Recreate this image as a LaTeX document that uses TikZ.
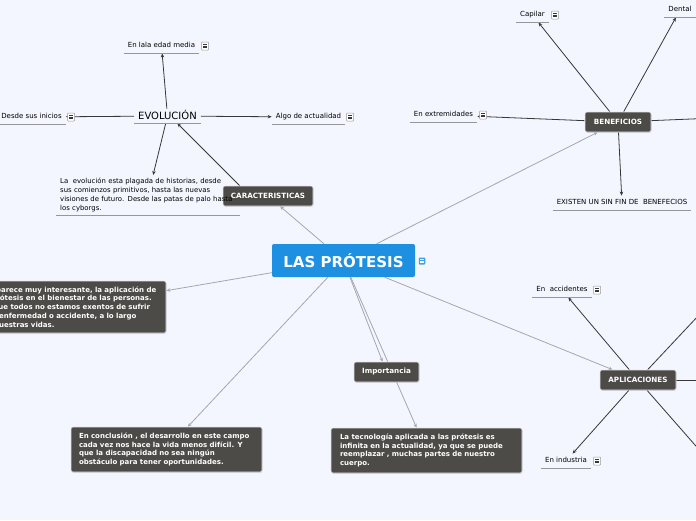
\documentclass[tikz,border=0pt]{standalone}
\usepackage{fontspec}
\setmainfont{DejaVu Sans}
\usetikzlibrary{arrows.meta,shadows}
\definecolor{bgc}{RGB}{243,246,254}
\definecolor{rootblue}{RGB}{30,144,226}
\definecolor{boxgray}{RGB}{77,75,72}
\definecolor{rootline}{RGB}{165,167,175}
\definecolor{darkline}{RGB}{55,55,55}
\definecolor{uline}{RGB}{150,150,155}
\pgfdeclarelayer{bglayer}
\pgfdeclarelayer{linelayer}
\pgfsetlayers{bglayer,linelayer,main}
\tikzset{
  rootbox/.style={fill=rootblue, text=white, font=\bfseries\fontsize{15}{18}\selectfont,
    minimum width=143pt, minimum height=33pt, rounded corners=2pt, inner sep=0pt},
  darkbox/.style={fill=boxgray, text=white, font=\bfseries\fontsize{7.2}{8}\selectfont,
    rounded corners=2pt, draw=white!80!gray, line width=0.6pt, inner sep=0pt,
    minimum height=20pt, drop shadow={opacity=0.25, shadow xshift=0.6pt, shadow yshift=-0.8pt}},
  parabox/.style={darkbox, font=\bfseries\fontsize{7}{8.8}\selectfont, align=left,
    inner xsep=8pt, inner ysep=4pt},
  leaf/.style={font=\fontsize{7}{8}\selectfont, inner xsep=4pt, inner ysep=4pt,
    text height=5pt, text depth=1.5pt,
    append after command={(\tikzlastnode.south west) edge[draw=uline, line width=0.7pt] (\tikzlastnode.south east)}},
  evolbox/.style={font=\fontsize{10}{12}\selectfont, inner xsep=4pt, inner ysep=3pt,
    text height=7.5pt, text depth=1pt,
    append after command={(\tikzlastnode.south west) edge[draw=uline, line width=0.7pt] (\tikzlastnode.south east)}},
  descbox/.style={font=\fontsize{6.9}{9}\selectfont, align=left, text width=176pt,
    inner xsep=4pt, inner ysep=3pt,
    append after command={(\tikzlastnode.south west) edge[draw=uline, line width=0.7pt] (\tikzlastnode.south east)}},
  note/.style={draw=gray!80, fill=white, minimum width=7pt, minimum height=8pt, inner sep=0pt,
    rounded corners=0.8pt, line width=0.5pt,
    path picture={
      \foreach \dy in {2.3pt,4pt,5.7pt}{
        \draw[darkline, line width=0.6pt] ([xshift=1.6pt,yshift=-\dy]path picture bounding box.north west) -- ++(3.8pt,0);}}},
  rootnote/.style={fill=rootblue!85!white, minimum width=6.5pt, minimum height=7pt, inner sep=0pt,
    rounded corners=0.8pt,
    path picture={
      \foreach \dy in {2pt,3.5pt,5pt}{
        \draw[white, line width=0.6pt] ([xshift=1.4pt,yshift=-\dy]path picture bounding box.north west) -- ++(3.7pt,0);}}},
  rootconn/.style={draw=rootline, line width=0.8pt, -{Stealth[length=4pt,width=3.5pt]}},
  darkconn/.style={draw=darkline, line width=0.8pt, -{Stealth[length=4pt,width=3.5pt]}},
}
\begin{document}
\begin{tikzpicture}[x=1pt,y=-1pt]
\useasboundingbox (0,0) rectangle (696,520);
\begin{pgfonlayer}{bglayer}
  \fill[bgc] (0,0) rectangle (696,520);
\end{pgfonlayer}

% central topic
\node[rootbox] (root) at (343.5,260.5) {LAS PRÓTESIS};
\node[rootnote] (rootn) at (422,261) {};

% main branches
\node[darkbox, minimum width=90pt] (carac) at (268,196) {CARACTERISTICAS};
\node[darkbox, minimum width=66pt] (benef) at (618,122) {BENEFICIOS};
\node[darkbox, minimum width=76pt] (aplic) at (638,380) {APLICACIONES};
\node[darkbox, minimum width=65pt] (impor) at (386.5,372) {Importancia};

\node[parabox, text width=176pt, minimum height=52pt] (leftb) at (70,307)
  {Me parece muy interesante, la aplicación de\\la prótesis en el bienestar de las personas.\\Ya que todos no estamos exentos de sufrir\\una enfermedad o accidente, a lo largo\\de nuestras vidas.};
\node[parabox, text width=175pt, minimum height=45pt] (concl) at (166.5,449.5)
  {En conclusión , el desarrollo en este campo\\cada vez nos hace la vida menos difícil. Y\\que la discapacidad no sea ningún\\obstáculo para tener oportunidades.};
\node[parabox, inner xsep=9pt, text width=173pt, minimum height=45pt] (tecno) at (426.5,450.5)
  {La tecnología aplicada a las prótesis es\\infinita en la actualidad, ya que se puede\\reemplazar , muchas partes de nuestro\\cuerpo.};

% EVOLUCION subtree
\node[evolbox] (evol) at (167.5,116) {EVOLUCIÓN};
\node[leaf] (media) at (161.5,46) {En lala edad media};
\node[note] (median) at (205,46) {};
\node[leaf] (desde) at (31.5,117) {Desde sus inicios};
\node[note] (desden) at (71,117) {};
\node[leaf] (algo) at (308.5,117) {Algo de actualidad};
\node[note] (algon) at (350,117) {};
\node[descbox, anchor=north west] (desc) at (56,175)
  {La~ evolución esta plagada de historias, desde\\sus comienzos primitivos, hasta las nuevas\\visiones de futuro. Desde las patas de palo hasta\\los cyborgs.};

% BENEFICIOS subtree
\node[leaf] (capilar) at (532.5,15) {Capilar};
\node[note] (capilarn) at (555,15) {};
\node[leaf] (dental) at (680,10) {Dental};
\node[leaf] (extrem) at (443.5,115) {En extremidades};
\node[note] (extremn) at (483,115) {};
\node[leaf] (existen) at (622,203) {EXISTEN UN SIN FIN DE~ BENEFECIOS};
\coordinate (benefout) at (740,117);

% APLICACIONES subtree
\node[leaf] (accid) at (562,290) {En~ accidentes};
\node[note] (accidn) at (597,290) {};
\node[leaf] (indus) at (566,461) {En industria};
\node[note] (indusn) at (597,461) {};
\coordinate (aplicup) at (745,266);
\coordinate (aplicright) at (760,380);
\coordinate (aplicdown) at (745,502);

\begin{pgfonlayer}{linelayer}
  \draw[rootconn] (root) -- (carac);
  \draw[rootconn] (root) -- (benef);
  \draw[rootconn] (root) -- (leftb);
  \draw[rootconn] (root) -- (concl);
  \draw[rootconn] (root) -- (impor);
  \draw[rootconn] (root) -- (tecno);
  \draw[rootconn] (root) -- (aplic);

  \draw[darkconn] (carac.160) -- (evol.-37);
  \draw[darkconn] (evol) -- (media);
  \draw[darkconn] (evol) -- (desde);
  \draw[darkconn] (evol) -- (algo);
  \draw[darkconn] (evol) -- (desc);

  \draw[darkconn] (benef) -- (capilar);
  \draw[darkconn] (benef) -- (dental);
  \draw[darkconn] (benef) -- (extrem);
  \draw[darkconn] (benef) -- (existen);
  \draw[darkconn] (benef) -- (benefout);

  \draw[darkconn] (aplic) -- (accid);
  \draw[darkconn] (aplic) -- (aplicup);
  \draw[darkconn] (aplic) -- (aplicright);
  \draw[darkconn] (aplic) -- (indus);
  \draw[darkconn] (aplic) -- (aplicdown);
\end{pgfonlayer}
\end{tikzpicture}
\end{document}
